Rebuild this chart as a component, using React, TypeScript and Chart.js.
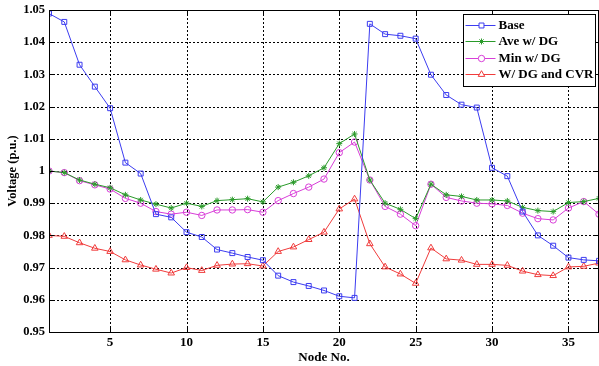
import React, { useEffect, useRef } from 'react';
import { Chart, registerables } from 'chart.js';
import { drawPoint } from 'chart.js/helpers';

Chart.register(...registerables);

const nodes = [1, 2, 3, 4, 5, 6, 7, 8, 9, 10, 11, 12, 13, 14, 15, 16, 17, 18, 19, 20, 21, 22, 23, 24, 25, 26, 27, 28, 29, 30, 31, 32, 33, 34, 35, 36, 37];

const baseV = [1.0489, 1.0463, 1.033, 1.0262, 1.0195, 1.0026, 0.9992, 0.9866, 0.9856, 0.981, 0.9795, 0.9756, 0.9745, 0.9733, 0.9723, 0.9675, 0.9655, 0.9643, 0.9629, 0.9611, 0.9606, 1.0457, 1.0425, 1.042, 1.0411, 1.0299, 1.0236, 1.0206, 1.0197, 1.001, 0.9984, 0.9874, 0.98, 0.9768, 0.9731, 0.9724, 0.9721];

const aveDG = [1.0, 0.9995, 0.9972, 0.9959, 0.9948, 0.9926, 0.991, 0.9897, 0.9885, 0.99, 0.989, 0.9908, 0.9911, 0.9914, 0.9904, 0.995, 0.9965, 0.9985, 1.001, 1.0085, 1.0115, 0.9972, 0.99, 0.9881, 0.9852, 0.9959, 0.9926, 0.9921, 0.991, 0.991, 0.9907, 0.9887, 0.9877, 0.9874, 0.9902, 0.9905, 0.9915];

const minDG = [1.0, 0.9995, 0.997, 0.9957, 0.9944, 0.9915, 0.99, 0.9874, 0.9866, 0.9872, 0.9862, 0.9879, 0.9879, 0.988, 0.9872, 0.9908, 0.993, 0.995, 0.9975, 1.0057, 1.009, 0.9972, 0.989, 0.9866, 0.983, 0.9959, 0.9918, 0.9907, 0.99, 0.9898, 0.9893, 0.9869, 0.9852, 0.9848, 0.9885, 0.9905, 0.9866];

const dgCVR = [0.98, 0.9797, 0.9777, 0.976, 0.975, 0.9724, 0.9708, 0.9695, 0.9683, 0.97, 0.9691, 0.9707, 0.9711, 0.9712, 0.9705, 0.975, 0.9764, 0.9787, 0.981, 0.9882, 0.9913, 0.9774, 0.9702, 0.968, 0.9651, 0.9761, 0.9727, 0.9723, 0.971, 0.971, 0.9707, 0.9689, 0.9678, 0.9675, 0.9702, 0.9704, 0.9714];

const seriesLabels = ['Base', 'Ave w/ DG', 'Min w/ DG', 'W/ DG and CVR'];
const xTicks = [5, 10, 15, 20, 25, 30, 35];
const yTicks = [0.95, 0.96, 0.97, 0.98, 0.99, 1.0, 1.01, 1.02, 1.03, 1.04, 1.05];

const FONT = '"Liberation Serif", "Times New Roman", serif';

const toPts = (vals: number[]) => nodes.map((n, i) => ({ x: n, y: vals[i] }));

const gridPlugin = {
  id: 'dotGrid',
  beforeDatasetsDraw(chart: any) {
    const { ctx, chartArea } = chart;
    const left = Math.round(chartArea.left);
    const right = Math.round(chartArea.right);
    const top = Math.round(chartArea.top);
    const bottom = Math.round(chartArea.bottom);
    const xs = chart.scales.x;
    const ys = chart.scales.y;
    ctx.save();
    ctx.strokeStyle = '#000';
    ctx.lineWidth = 1;
    ctx.setLineDash([2, 2]);
    ctx.beginPath();
    xTicks.forEach((v) => {
      const px = Math.round(xs.getPixelForValue(v)) + 0.5;
      ctx.moveTo(px, top);
      ctx.lineTo(px, bottom);
    });
    yTicks.forEach((v) => {
      const py = Math.round(ys.getPixelForValue(v)) + 0.5;
      ctx.moveTo(left, py);
      ctx.lineTo(right, py);
    });
    ctx.stroke();
    ctx.restore();
  },
};

const framePlugin = {
  id: 'frame',
  afterDatasetsDraw(chart: any) {
    const { ctx, chartArea } = chart;
    const { left, right, top, bottom } = chartArea;
    const xs = chart.scales.x;
    const ys = chart.scales.y;
    ctx.save();
    ctx.strokeStyle = '#000';
    ctx.lineWidth = 1;
    ctx.setLineDash([]);
    const L = Math.round(left) + 0.5;
    const R = Math.round(right) - 0.5;
    const T = Math.round(top) + 0.5;
    const B = Math.round(bottom) + 0.5;
    ctx.beginPath();
    ctx.rect(L, T, R - L, B - T);
    const tl = 5;
    xTicks.forEach((v) => {
      const px = Math.round(xs.getPixelForValue(v)) + 0.5;
      ctx.moveTo(px, B);
      ctx.lineTo(px, B - tl);
      ctx.moveTo(px, T);
      ctx.lineTo(px, T + tl);
    });
    yTicks.forEach((v) => {
      const py = Math.round(ys.getPixelForValue(v)) + 0.5;
      ctx.moveTo(L, py);
      ctx.lineTo(L + tl, py);
      ctx.moveTo(R, py);
      ctx.lineTo(R - tl, py);
    });
    ctx.stroke();
    ctx.restore();
  },
};

const legendPlugin = {
  id: 'boxLegend',
  afterDraw(chart: any) {
    const { ctx, chartArea } = chart;
    const w = 132;
    const h = 72;
    const x0 = Math.round(chartArea.right - 136) + 0.5;
    const y0 = Math.round(chartArea.top + 4) + 0.5;
    ctx.save();
    ctx.fillStyle = '#fff';
    ctx.fillRect(x0, y0, w, h);
    ctx.strokeStyle = '#000';
    ctx.lineWidth = 1;
    ctx.setLineDash([]);
    ctx.strokeRect(x0, y0, w, h);
    chart.data.datasets.forEach((ds: any, i: number) => {
      const cy = Math.round(y0 + 10 + i * 16.5) + 0.5;
      ctx.strokeStyle = ds.borderColor;
      ctx.lineWidth = 1;
      ctx.beginPath();
      ctx.moveTo(x0 + 2, cy);
      ctx.lineTo(x0 + 32, cy);
      ctx.stroke();
      ctx.fillStyle = '#fff';
      ctx.strokeStyle = ds.pointBorderColor;
      drawPoint(ctx, { pointStyle: ds.pointStyle, radius: ds.pointRadius, rotation: 0, borderWidth: 1 }, x0 + 18, cy);
      ctx.fillStyle = '#000';
      ctx.font = 'bold 13px ' + FONT;
      ctx.textBaseline = 'middle';
      ctx.textAlign = 'left';
      ctx.fillText(ds.label, x0 + 35, cy + 0.5);
    });
    ctx.restore();
  },
};

export default function App() {
  const ref = useRef<HTMLCanvasElement | null>(null);

  useEffect(() => {
    document.body.style.margin = '0';
    const canvas = ref.current;
    if (!canvas) return;
    const mk = (label: string, vals: number[], color: string, style: string, r: number) => ({
      label,
      data: toPts(vals),
      borderColor: color,
      borderWidth: 1,
      pointStyle: style,
      pointRadius: r,
      pointBorderColor: color,
      pointBackgroundColor: 'rgba(0,0,0,0)',
      pointBorderWidth: 1,
      tension: 0,
      fill: false,
    });
    const chart = new Chart(canvas, {
      type: 'line',
      data: {
        datasets: [
          mk(seriesLabels[0], baseV, '#3c3cf0', 'rect', 3.5),
          mk(seriesLabels[1], aveDG, '#2a9a2a', 'star', 3),
          mk(seriesLabels[2], minDG, '#d83ed8', 'circle', 3.2),
          mk(seriesLabels[3], dgCVR, '#f03c3c', 'triangle', 3.8),
        ] as any,
      },
      options: {
        animation: false,
        responsive: false,
        maintainAspectRatio: false,
        layout: { autoPadding: false, padding: { top: 10, right: 0, left: 0, bottom: 0 } },
        plugins: { legend: { display: false }, tooltip: { enabled: false } },
        scales: {
          x: {
            type: 'linear',
            min: 1,
            max: 37,
            afterBuildTicks: (axis: any) => {
              axis.ticks = xTicks.map((v) => ({ value: v }));
            },
            afterFit: (scale: any) => {
              scale.height = 34;
              scale.paddingLeft = 0;
              scale.paddingRight = 0;
            },
            ticks: {
              font: { family: FONT, size: 13, weight: 'bold' },
              color: '#000',
              padding: 3,
              maxRotation: 0,
              autoSkip: false,
            },
            grid: { display: false, drawTicks: false },
            border: { display: false },
            title: {
              display: true,
              text: 'Node No.',
              font: { family: FONT, size: 13, weight: 'bold' },
              color: '#000',
              padding: { top: 0, bottom: 1 },
            },
          },
          y: {
            type: 'linear',
            min: 0.95,
            max: 1.05,
            afterBuildTicks: (axis: any) => {
              axis.ticks = yTicks.map((v) => ({ value: v }));
            },
            afterFit: (scale: any) => {
              scale.width = 49;
              scale.paddingTop = 0;
              scale.paddingBottom = 0;
            },
            ticks: {
              font: { family: FONT, size: 12.5, weight: 'bold' },
              color: '#000',
              padding: 4,
              callback: (v: any) => String(+Number(v).toFixed(2)),
            },
            grid: { display: false, drawTicks: false },
            border: { display: false },
            title: {
              display: true,
              text: 'Voltage (p.u.)',
              font: { family: FONT, size: 12.5, weight: 'bold' },
              color: '#000',
              padding: { top: 5, bottom: 0 },
            },
          },
        },
      },
      plugins: [gridPlugin, framePlugin, legendPlugin],
    } as any);
    return () => chart.destroy();
  }, []);

  return (
    <div style={{ width: 599, height: 366, background: '#fff' }}>
      <canvas ref={ref} width={599} height={366} style={{ display: 'block', width: 599, height: 366 }} />
    </div>
  );
}
